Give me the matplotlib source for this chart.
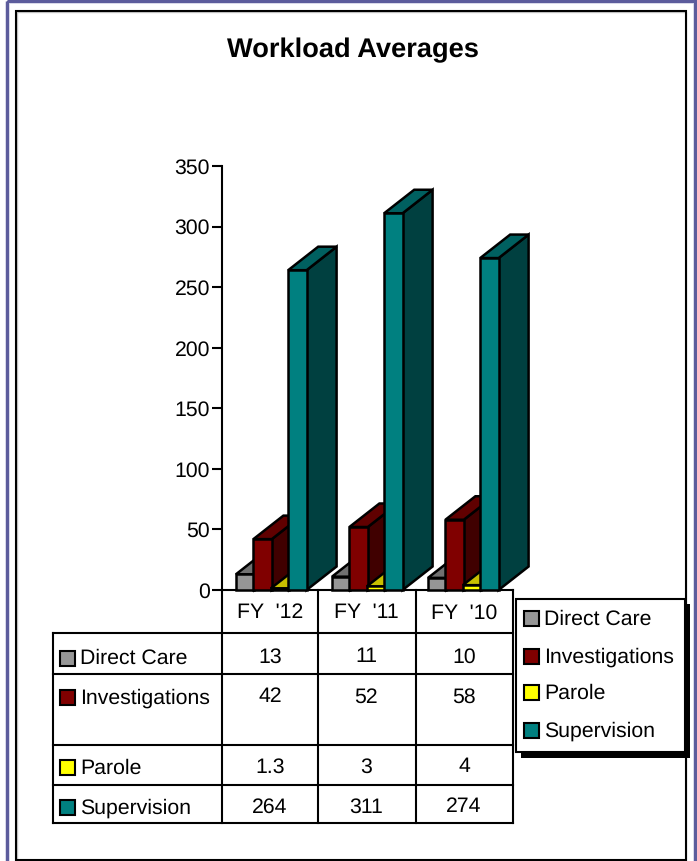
import matplotlib
matplotlib.use("Agg")
import matplotlib.pyplot as plt
from matplotlib.patches import Rectangle, Polygon

plt.rcParams['font.family'] = ['Liberation Sans', 'DejaVu Sans']
plt.rcParams['text.hinting'] = 'no_hinting'

# Data
years = ["FY  '12", "FY  '11", "FY  '10"]
series = ["Direct Care", "Investigations", "Parole", "Supervision"]
direct_care = [13, 11, 10]
investigations = [42, 52, 58]
parole = [1.3, 3, 4]
supervision = [264, 311, 274]
values = [direct_care, investigations, parole, supervision]
y_ticks = [0, 50, 100, 150, 200, 250, 300, 350]

# Face colours per series: front, top, side
front_colors = ["#969696", "#800000", "#ffff00", "#008080"]
top_colors = ["#717171", "#600000", "#c8c000", "#006060"]
side_colors = ["#4b4b4b", "#400000", "#a8a000", "#004040"]

W, H = 697, 861
LW = 1.5
BAR_LW = 1.8
FS = 15.3
fig = plt.figure(figsize=(W / 100, H / 100), dpi=100, facecolor="white")

# Page-level layer measured in pixels, for frame, table and legend
page = fig.add_axes([0, 0, 1, 1], zorder=0)
page.set_xlim(0, W)
page.set_ylim(H, 0)
page.axis("off")


def hline(y, x0, x1):
    page.plot([x0, x1], [y, y], color="black", lw=LW,
              solid_capstyle="projecting", clip_on=False)


def vline(x, y0, y1):
    page.plot([x, x], [y0, y1], color="black", lw=LW,
              solid_capstyle="projecting", clip_on=False)


# Outer blue frame with its pale halo
page.add_patch(Rectangle((6.5, 1), 688.5, 880, fill=False, ec="#d8d8ea", lw=3.4))
page.add_patch(Rectangle((6.5, 1), 688.5, 880, fill=False, ec="#5c5c9c", lw=2.2))
# Inner black frame with a faint shadow
page.add_patch(Rectangle((17, 12), 669, 848, fill=False, ec="#c8c8c8", lw=1.0))
page.add_patch(Rectangle((16, 11), 670, 848.5, fill=False, ec="black", lw=LW))

page.text(353, 50, "Workload Averages", fontsize=19.6, fontweight="bold",
          ha="center", va="center", color="black")

# Plot area: categories along x, workload along y
left, right, bottom, top = 222, 510, 590, 166
ax = fig.add_axes([left / W, 1 - bottom / H, (right - left) / W, (bottom - top) / H],
                  zorder=1)
ax.patch.set_visible(False)
ax.set_xlim(0, len(years))
ax.set_ylim(0, 350)
for name in ("top", "right", "bottom"):
    ax.spines[name].set_visible(False)
ax.spines["left"].set_linewidth(LW)
ax.set_xticks([])
ax.set_yticks(y_ticks)
ax.tick_params(axis="y", length=7.2, width=LW, pad=1.5, labelsize=FS)

px_x = len(years) / (right - left)     # category units per pixel
px_y = 350 / (bottom - top)            # workload units per pixel
bar_w = 18.4 * px_x
bar_step = 17.4 * px_x
bar_start = 14 * px_x
depth_x = 30 * px_x
depth_y = 23.5 * px_y

for i in range(len(years)):
    for j, vals in enumerate(values):
        v = vals[i]
        x0 = i + bar_start + j * bar_step
        x1 = x0 + bar_w
        style = dict(ec="black", lw=BAR_LW, joinstyle="miter", clip_on=False)
        ax.add_patch(Polygon([(x1, 0), (x1 + depth_x, depth_y),
                              (x1 + depth_x, v + depth_y), (x1, v)],
                             fc=side_colors[j], **style))
        ax.add_patch(Polygon([(x0, v), (x1, v), (x1 + depth_x, v + depth_y),
                              (x0 + depth_x, v + depth_y)],
                             fc=top_colors[j], **style))
        ax.add_patch(Polygon([(x0, 0), (x1, 0), (x1, v), (x0, v)],
                             fc=front_colors[j], **style))

# Data table underneath the plot
col_x = [53, 222, 318, 416, 513]
row_y = [590, 632.5, 674, 745, 785, 823]
cell_cx = [270, 366, 464]
value_y = [657, 697, 767, 807]
label_y = [658, 698, 768, 808]
table_swatch_y = [658, 697.5, 767.5, 807.5]

hline(row_y[0], col_x[1], col_x[4])
for y in row_y[1:]:
    hline(y, col_x[0], col_x[4])
vline(col_x[0], row_y[1], row_y[5])
for x in col_x[1:]:
    vline(x, row_y[0], row_y[5])

for c, year in enumerate(years):
    page.text(cell_cx[c], 613, year, fontsize=FS, ha="center", va="center")


def swatch(x, cy, color):
    page.add_patch(Rectangle((x, cy - 7.5), 15, 15, fc=color, ec="black", lw=LW))


for r, name in enumerate(series):
    swatch(59.5, table_swatch_y[r], front_colors[r])
    page.text(80, label_y[r], name, fontsize=FS, ha="left", va="center")
    for c in range(len(years)):
        page.text(cell_cx[c], value_y[r], f"{values[r][c]:g}", fontsize=FS,
                  ha="center", va="center")

# Legend box with a solid drop shadow
legend_rows = [618, 656, 692, 730]
page.add_patch(Rectangle((521, 604), 169, 154, fc="black", ec="black", lw=0))
page.add_patch(Rectangle((516, 599), 169, 153, fc="white", ec="black", lw=LW))
for r, name in enumerate(series):
    swatch(523.5, legend_rows[r], front_colors[r])
    page.text(544.5, legend_rows[r] + 1, name, fontsize=FS, ha="left", va="center")

fig.savefig("out.png", dpi=100)
